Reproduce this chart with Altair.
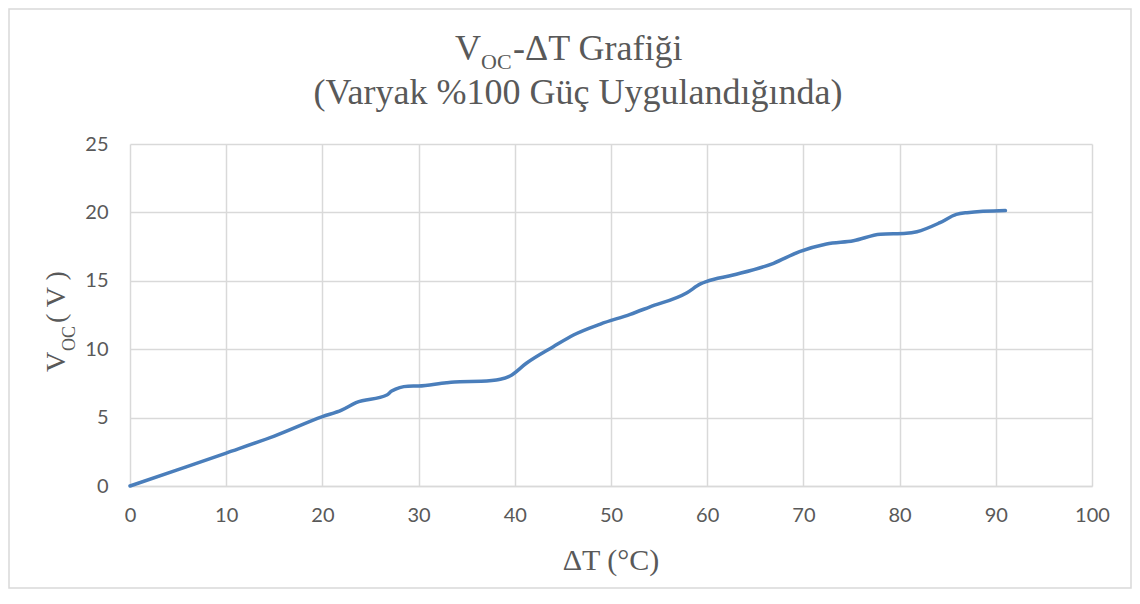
import altair as alt
import pandas as pd

# ---- data ----
delta_t = [0, 5, 10, 15, 20, 22, 23.5, 26.7, 27.2, 28.9, 30.0, 32.9, 34.3, 36.5, 38.5, 39.5,
           41.2, 44.0, 46.1, 48.9, 52.0, 54.0, 57.9, 59.3, 59.9, 62.7, 66.9, 69.6, 72.4,
           75.2, 78.0, 80.7, 81.8, 84.2, 85.9, 87.0, 91.0]
voc = [0.0, 1.2, 2.41, 3.65, 5.07, 5.55, 6.09, 6.65, 6.94, 7.30, 7.31, 7.55, 7.62, 7.65, 7.80, 8.04,
       8.97, 10.18, 11.04, 11.84, 12.55, 13.08, 14.13, 14.77, 14.94, 15.42, 16.28, 17.13, 17.69,
       17.93, 18.40, 18.47, 18.59, 19.25, 19.86, 19.98, 20.13]

x_ticks = [0, 10, 20, 30, 40, 50, 60, 70, 80, 90, 100]
y_ticks = [0, 5, 10, 15, 20, 25]

title_main = ["V"]
title_sub = ["OC"]
title_rest = ["-ΔT Grafiği"]
title_line2 = ["(Varyak %100 Güç Uygulandığında)"]
ytitle_main = ["V"]
ytitle_sub = ["OC"]
ytitle_rest = ["( V )"]
xtitle = ["ΔT (°C)"]

df = pd.DataFrame({"dT": delta_t, "V": voc})

W, H = 962, 342
SERIF = "Liberation Serif"
SANS = "Lato"
TXT = "#595959"
GRID = "#D9D9D9"

line = alt.Chart(df).mark_line(
    color="#4A7EBB", strokeWidth=3.5, interpolate="monotone", strokeCap="round"
).encode(
    x=alt.X("dT:Q", scale=alt.Scale(domain=[0, 100], nice=False),
            axis=alt.Axis(values=x_ticks, title=None, grid=True, gridColor=GRID, gridWidth=1.5,
                          domain=True, domainColor=GRID, domainWidth=1.5, ticks=False, tickSize=0,
                          labelFont=SANS, labelFontSize=20, labelColor=TXT,
                          labelPadding=19, labelFlush=False)),
    y=alt.Y("V:Q", scale=alt.Scale(domain=[0, 25], nice=False),
            axis=alt.Axis(values=y_ticks, title=None, grid=True, gridColor=GRID, gridWidth=1.5,
                          domain=False, ticks=False, tickSize=0,
                          labelFont=SANS, labelFontSize=20, labelColor=TXT,
                          labelPadding=22)),
)


def txt(values, x, y, size, angle=0, align="left", font=SERIF):
    kw = dict(font=font, fontSize=size, color=TXT, align=align, baseline="alphabetic")
    if angle:
        kw["angle"] = angle
    return alt.Chart(pd.DataFrame({"t": values})).mark_text(**kw).encode(
        text="t:N", x=alt.value(x), y=alt.value(y))


title_layers = [
    txt(title_main, 325, -84, 36),
    txt(title_sub, 351, -75, 22),
    txt(title_rest, 383, -84, 36),
    txt(title_line2, 448, -40, 36, align="center"),
    txt(ytitle_main, -65, 228, 28, angle=270),
    txt(ytitle_sub, -55, 207, 18, angle=270),
    txt(ytitle_rest, -65, 179, 28, angle=270),
    txt(xtitle, 481, 426, 30, align="center"),
]

border = alt.Chart(pd.DataFrame({"b": [0]})).mark_rect(
    fill="white", fillOpacity=0, stroke=GRID, strokeWidth=1.5
).encode(x=alt.value(-121), x2=alt.value(1001), y=alt.value(-135), y2=alt.value(444))

chart = alt.layer(border, line, *title_layers).properties(
    width=W, height=H, autosize="none",
    padding={"left": 122, "top": 136, "right": 40, "bottom": 105},
    background="white",
).configure_view(stroke=None)

chart.save("out.html", embed_options={"renderer": "svg", "actions": False})
